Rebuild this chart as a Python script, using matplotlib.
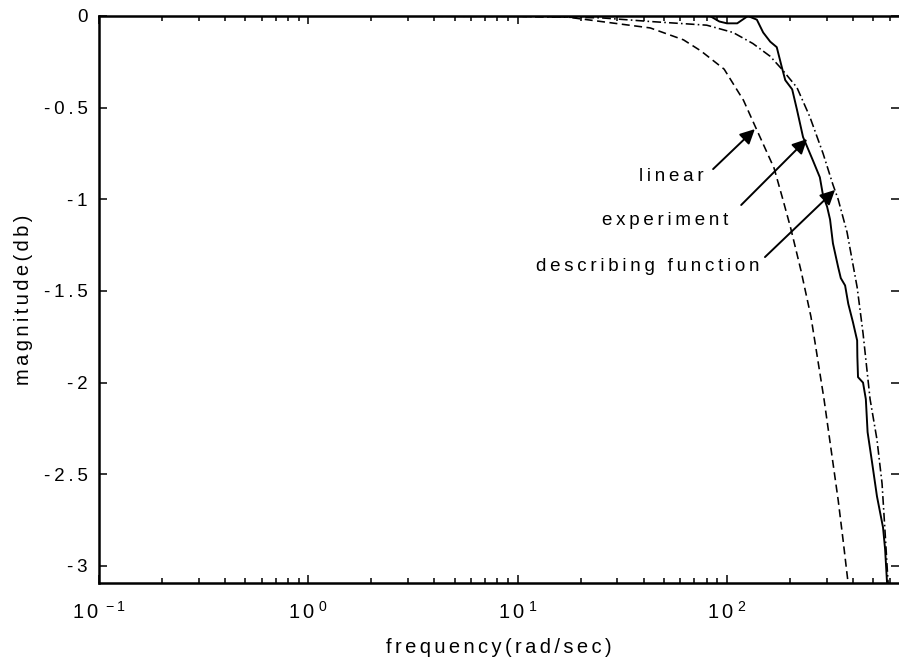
import math
import matplotlib
matplotlib.use("Agg")
import matplotlib.pyplot as plt
from matplotlib.ticker import LogLocator, FuncFormatter, FixedLocator, NullFormatter

plt.rcParams['font.family'] = ['Liberation Sans', 'DejaVu Sans']
plt.rcParams['mathtext.fontset'] = 'custom'
plt.rcParams['mathtext.rm'] = 'Liberation Sans'
plt.rcParams['mathtext.default'] = 'regular'
plt.rcParams['axes.unicode_minus'] = False

# ---------------- data ----------------
f_linear = [0.1, 1, 10, 17, 25, 43, 62, 75, 97, 120, 135, 168, 185, 202, 226,
            252, 291, 315, 340, 359, 379, 390]
m_linear = [0, 0, -0.002, -0.005, -0.03, -0.065, -0.13, -0.19, -0.29, -0.46,
            -0.59, -0.83, -1.0, -1.16, -1.39, -1.64, -2.09, -2.37, -2.64,
            -2.86, -3.09, -3.2]

f_experiment = [0.1, 1, 10, 83, 92, 100, 112, 126, 139, 149, 161, 173, 183,
                190, 205, 216, 231, 258, 278, 288, 301, 311, 321, 340, 350,
                367, 380, 400, 419, 420, 423, 447, 461, 470, 493, 521, 557,
                570, 582, 590]
m_experiment = [0, 0, 0, 0, -0.03, -0.04, -0.04, 0.0, -0.02, -0.09, -0.14,
                -0.17, -0.28, -0.35, -0.40, -0.51, -0.66, -0.79, -0.88, -0.98,
                -1.04, -1.11, -1.24, -1.37, -1.43, -1.47, -1.57, -1.67, -1.77,
                -1.86, -1.97, -2.0, -2.09, -2.27, -2.43, -2.62, -2.79, -2.91,
                -3.09, -3.2]

f_describing = [0.1, 1, 10, 25, 43, 80, 107, 133, 161, 183, 216, 249, 288,
                321, 340, 375, 419, 447, 483, 521, 551, 570, 588, 600]
m_describing = [0, 0, -0.002, -0.01, -0.03, -0.05, -0.09, -0.15, -0.22,
                -0.29, -0.39, -0.55, -0.75, -0.92, -1.0, -1.18, -1.48, -1.73,
                -2.09, -2.31, -2.55, -2.82, -3.08, -3.2]

y_ticks = [0, -0.5, -1, -1.5, -2, -2.5, -3]
y_tick_labels = ['0', '-0.5', '-1', '-1.5', '-2', '-2.5', '-3']
x_label = 'frequency(rad/sec)'
y_label = 'magnitude(db)'

# annotations: (text, text position, arrow tail, arrow head)
ann_texts = ['linear', 'experiment', 'describing function']
ann_text_xy = [(54.5, -0.878), (50.4, -1.113), (42.0, -1.364)]
ann_tail_xy = [(85.9, -0.835), (117, -1.031), (152, -1.315)]
ann_head_xy = [(136, -0.617), (241.5, -0.671), (328.5, -0.949)]

THIN = '\u2009'
SIXTH = '\u2006'
def spaced(s, sep):
    return sep.join(s)

# ---------------- figure ----------------
fig = plt.figure(figsize=(8.99, 6.66), dpi=100)
ax = fig.add_axes([99 / 899, 1 - 583 / 666, 800 / 899, 567 / 666])

lw = 1.15
ax.plot(f_linear, m_linear, color='black', lw=lw, dashes=(5, 2.8))
ax.plot(f_experiment, m_experiment, color='black', lw=lw * 1.2, ls='-')
ax.plot(f_describing, m_describing, color='black', lw=lw, dashes=(5.5, 2, 1, 2))

ax.set_xscale('log')
ax.set_xlim(0.1, 664)
ax.set_ylim(-3.093, 0)

ax.xaxis.set_major_locator(LogLocator(base=10, numticks=10))
ax.xaxis.set_minor_locator(LogLocator(base=10, subs=range(2, 10), numticks=20))
ax.xaxis.set_minor_formatter(NullFormatter())
ax.xaxis.set_major_formatter(FuncFormatter(
    lambda v, p: r'$\mathregular{1\,0^{\ %d}}$' % round(math.log10(v))))

ax.yaxis.set_major_locator(FixedLocator(y_ticks))
ax.set_yticklabels([spaced(t, THIN) for t in y_tick_labels])

ax.tick_params(which='both', direction='in', top=True, right=True,
               width=1.1, colors='black')
ax.tick_params(which='major', length=6)
ax.tick_params(which='minor', length=3.6)
ax.tick_params(axis='x', which='major', labelsize=14.5, pad=13)
ax.tick_params(axis='y', which='major', labelsize=13.5, pad=8)

for side in ['left', 'bottom', 'top']:
    ax.spines[side].set_linewidth(1.8)
ax.spines['right'].set_visible(False)

ax.set_xlabel(spaced(x_label, SIXTH), fontsize=14.5, va='top')
ax.set_ylabel(spaced(y_label, SIXTH), fontsize=14.5)
ax.xaxis.set_label_coords(0.5, -0.097)
ax.yaxis.set_label_coords(-0.083, 0.5)

for t, txy, tail, head in zip(ann_texts, ann_text_xy, ann_tail_xy, ann_head_xy):
    ax.text(txy[0], txy[1], spaced(t, THIN), fontsize=13.5, ha='center', va='center')
    ax.annotate('', xy=head, xytext=tail,
                arrowprops=dict(arrowstyle='-|>', color='black', lw=1.4,
                                mutation_scale=22, shrinkA=0, shrinkB=0))

fig.savefig('out.png', dpi=100)
